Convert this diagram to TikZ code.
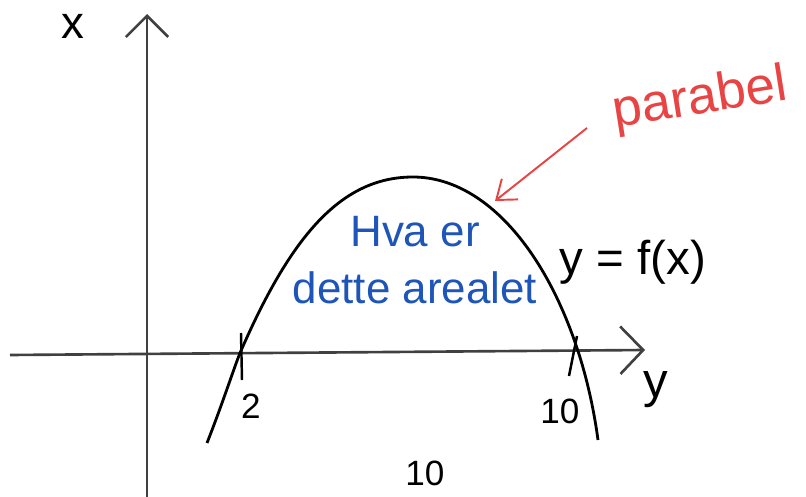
\documentclass[tikz,border=0pt]{standalone}
\usepackage{fontspec}
\setmainfont{Liberation Sans}
\usetikzlibrary{arrows.meta,positioning,calc}
\definecolor{penblue}{RGB}{30,85,185}
\definecolor{penred}{RGB}{232,68,68}

\begin{document}
\begin{tikzpicture}[x=0.02cm, y=-0.02cm, line width=1.5pt,
                axis/.style={draw=black!75, line width=1.5pt},
                tick/.style={line width=1.4pt},
                label/.style={font=\fontsize{20}{24}\selectfont, inner sep=0pt},
                note/.style={text=penblue, font=\fontsize{25}{30}\selectfont, inner sep=0pt}
            ]
\useasboundingbox (0,0) rectangle (806,497);

% --- coordinates ---
                \coordinate (O)  at (147,497);    % bottom of vertical axis
                \coordinate (OT) at (147,14);     % top of vertical axis
                \coordinate (HL) at (10,355);     % left end of horizontal axis
                \coordinate (HR) at (645,350);    % right end of horizontal axis

                \coordinate (P2)  at (240,353);   % left root
                \coordinate (P10) at (577,348);   % right root
                \coordinate (top) at (413,177);   % vertex of the parabola
                \coordinate (LE)  at (207,443);   % lower left end of the curve
                \coordinate (RE)  at (598,440);   % lower right end of the curve

% --- axes ---
                \draw[axis, -{Straight Barb[length=12pt,width=24pt]}] (O) -- (OT);
                \draw[axis, -{Straight Barb[length=13pt,width=27pt]}] (HL) -- (HR);

                \node[label, font=\fontsize{26}{28}\selectfont] (xlab) at (73,26) {x};
                \node[label, font=\fontsize{28}{30}\selectfont] (ylab) at (656,390) {y};

% --- the parabola ---
                \draw[line width=1.6pt] (LE) .. controls (222,405) and (234,368) .. (P2)
                    .. controls (290,238) and (340,177) .. (top)
                    .. controls (480,177) and (542,243) .. (P10)
                    .. controls (587,378) and (594,410) .. (RE);

% --- ticks and numbers ---
                \draw[tick] ($(P2)+(1,-20)$) -- ($(P2)+(2,27)$);
                \draw[tick] ($(P10)+(0,-12)$) -- ($(P10)+(-8,28)$);
                \node[label] (two) at (251,406) {2};
                \node[label] (ten) at (560,411) {10};
                \node[label] (width) at (425,473) {10};

% --- texts ---
                \node[note] (q1) at (415,232) {Hva er};
                \node[note] (q2) at (415,288) {dette arealet};
                \node[label, font=\fontsize{27}{30}\selectfont] (fx) at (633,262) {y = f(x)};

                \node[label, text=penred, font=\fontsize{30}{34}\selectfont, rotate=9] (par) at (700,100) {parabel};
                \coordinate (hit) at (495,201);
                \draw[penred, line width=1.1pt, -{Straight Barb[length=10pt,width=15pt]}] (587,128) -- (hit);

            \end{tikzpicture}
\end{document}
